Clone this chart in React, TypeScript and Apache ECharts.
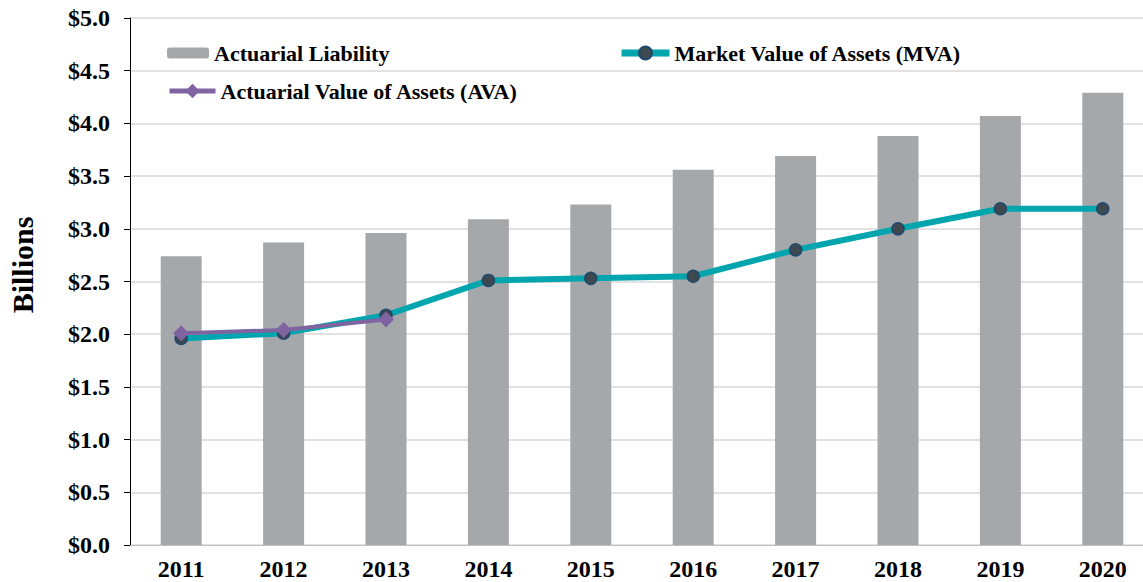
import React, { useEffect, useRef } from "react";
import * as echarts from "echarts";

const years = ["2011", "2012", "2013", "2014", "2015", "2016", "2017", "2018", "2019", "2020"];
const actuarialLiability = [2.74, 2.87, 2.96, 3.09, 3.23, 3.56, 3.69, 3.88, 4.07, 4.29];
const marketValue = [1.96, 2.01, 2.18, 2.51, 2.53, 2.55, 2.80, 3.00, 3.19, 3.19];
const actuarialValue = [2.01, 2.04, 2.14, null, null, null, null, null, null, null];

const FONT = "Liberation Serif";

export default function App() {
  const ref = useRef<HTMLDivElement>(null);
  useEffect(() => {
    if (!ref.current) return;
    const chart = echarts.init(ref.current, null, { renderer: "svg" });
    const legendText = { fontFamily: FONT, fontWeight: "bold", fontSize: 22, color: "#000" };
    chart.setOption({
      animation: false,
      backgroundColor: "#fff",
      grid: {
        left: 130,
        top: 18,
        width: 1024,
        height: 527,
        containLabel: false,
        outerBoundsMode: "none",
      },
      graphic: [
        {
          type: "text",
          x: 22,
          y: 265,
          rotation: Math.PI / 2,
          style: {
            text: "Billions",
            fontFamily: FONT,
            fontWeight: "bold",
            fontSize: 30,
            fill: "#000",
            align: "center",
            verticalAlign: "middle",
          },
        },
      ],
      legend: [
        {
          data: ["Actuarial Liability"],
          left: 162,
          top: 37,
          itemWidth: 42,
          itemHeight: 11,
          textStyle: legendText,
        },
        {
          data: [
            {
              name: "Market Value of Assets (MVA)",
              lineStyle: { width: 7, color: "#00A5AE" },
            },
          ],
          left: 613,
          top: 37,
          itemWidth: 48,
          itemHeight: 16,
          textStyle: legendText,
        },
        {
          data: [
            {
              name: "Actuarial Value of Assets (AVA)",
              lineStyle: { width: 5, color: "#8064A2" },
            },
          ],
          left: 162,
          top: 75,
          itemWidth: 46,
          itemHeight: 18,
          textStyle: legendText,
        },
      ],
      xAxis: {
        type: "category",
        data: years,
        axisLine: { lineStyle: { color: "#BFBFBF", width: 1 } },
        axisTick: { show: false },
        axisLabel: { fontFamily: FONT, fontWeight: "bold", fontSize: 24, color: "#000", margin: 12 },
      },
      yAxis: {
        type: "value",
        min: 0,
        max: 5,
        interval: 0.5,
        axisLine: { show: true, lineStyle: { color: "#000", width: 1 } },
        axisTick: { show: true, length: 6, lineStyle: { color: "#000" } },
        splitLine: { lineStyle: { color: "#D9D9D9", width: 1.5 } },
        axisLabel: {
          fontFamily: FONT,
          fontWeight: "bold",
          fontSize: 24,
          color: "#000",
          margin: 20,
          formatter: (v: number) => "$" + v.toFixed(1),
        },
      },
      series: [
        {
          name: "Actuarial Liability",
          type: "bar",
          data: actuarialLiability,
          barWidth: 41,
          itemStyle: { color: "#A5A8AB" },
          z: 1,
        },
        {
          name: "Market Value of Assets (MVA)",
          type: "line",
          data: marketValue,
          symbol: "circle",
          symbolSize: 12,
          lineStyle: { color: "#00A5AE", width: 6 },
          itemStyle: { color: "#3D4850", borderColor: "#1F4A6E", borderWidth: 1.5 },
          z: 3,
        },
        {
          name: "Actuarial Value of Assets (AVA)",
          type: "line",
          data: actuarialValue,
          symbol: "diamond",
          symbolSize: 16,
          lineStyle: { color: "#8064A2", width: 4 },
          itemStyle: { color: "#8064A2" },
          z: 4,
        },
      ],
    });
    return () => chart.dispose();
  }, []);
  return (
    <div
      ref={ref}
      style={{ position: "absolute", left: 0, top: 0, width: 1143, height: 582 }}
    />
  );
}
